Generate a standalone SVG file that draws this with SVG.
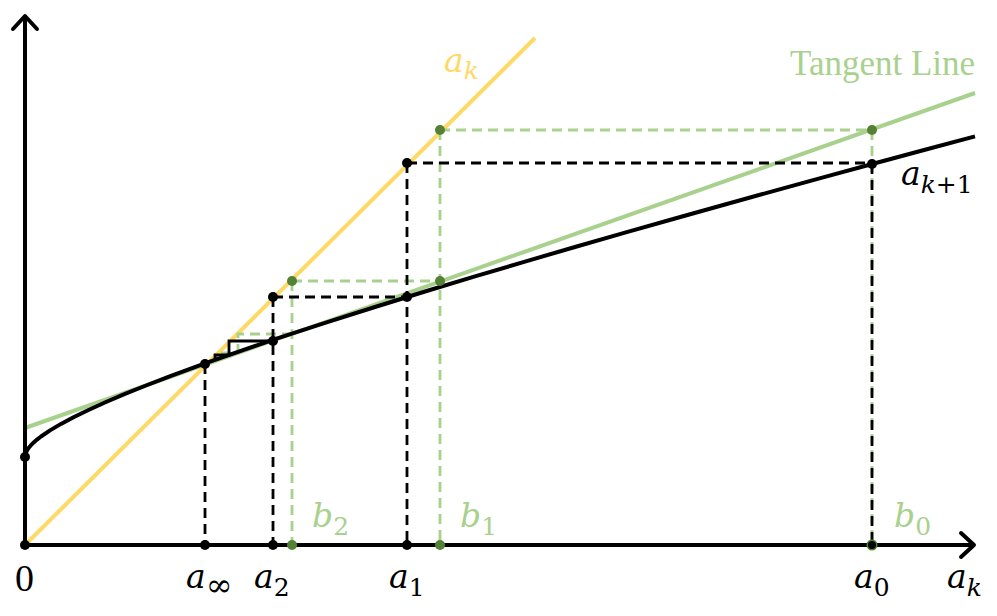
<svg xmlns="http://www.w3.org/2000/svg" width="997" height="616" viewBox="0 0 997 616">
  <style>
    .axis { stroke: #000; stroke-width: 4; fill: none; }
    .arrow { stroke: #000; stroke-width: 4; fill: none; stroke-linecap: round; stroke-linejoin: round; }
    .curve { stroke: #000; stroke-width: 4; fill: none; stroke-linejoin: round; }
    .yellow { stroke: #FFD966; stroke-width: 4; fill: none; }
    .tangent { stroke: #A9D18E; stroke-width: 4; fill: none; }
    .dk { stroke: #000; stroke-width: 2.8; stroke-dasharray: 10 6; fill: none; }
    .dg { stroke: #A9D18E; stroke-width: 2.8; stroke-dasharray: 10 6; fill: none; }
    .stair { stroke: #000; stroke-width: 2.8; fill: none; }
    .pk { fill: #000; }
    .pg { fill: #548235; }
    .m { font-family: "DejaVu Serif", "Liberation Serif", serif; font-style: italic; font-size: 33px; }
    .up { font-family: "Liberation Serif", "DejaVu Serif", serif; font-style: normal; font-size: 38px; }
    .sub { font-size: 25px; }
    .inf { font-size: 32px; }
    .n { font-style: normal; }
    .tl { font-family: "Liberation Serif", "DejaVu Serif", serif; font-size: 35px; fill: #A9D18E; }
  </style>

  <g id="curves">
    <line class="yellow" x1="25" y1="545" x2="535" y2="38"/>
    <line class="tangent" x1="25" y1="428" x2="975" y2="93"/>
  </g>

  <g id="connectors">
    <!-- green dashed -->
    <line class="dg" x1="440" y1="130" x2="872" y2="130"/>
    <line class="dg" x1="440" y1="130" x2="440" y2="545"/>
    <line class="dg" x1="872" y1="130" x2="872" y2="545"/>
    <line class="dg" x1="292" y1="281" x2="440" y2="281"/>
    <line class="dg" x1="292" y1="281" x2="292" y2="545"/>
    <polyline class="dg" points="292,334 238,334 238,353 218,353"/>
    <!-- black dashed -->
    <line class="dk" x1="407" y1="163" x2="872" y2="163"/>
    <line class="dk" x1="407" y1="163" x2="407" y2="545"/>
    <line class="dk" x1="872" y1="164" x2="872" y2="545"/>
    <line class="dk" x1="273" y1="297" x2="407" y2="297"/>
    <line class="dk" x1="273" y1="297" x2="273" y2="545"/>
    <line class="dk" x1="205" y1="364" x2="205" y2="545"/>
    <!-- black solid staircase -->
    <polyline class="stair" points="273,341 229,341 229,355 215,355 215,361"/>
  </g>

  <g id="function">
    <polyline class="curve" points="25,457 25.25,454.8 26,452.5 27,450.5 29,447.5 31,445.2 34,442.2 37,439.6 41,436.5 50,430.4 61,423.9 74,417 89,409.7 106,402 125,393.9 146,385.5 169,376.6 205,363.4 225,356.3 275,339.2 325,322.8 375,307 425,291.5 475,276.4 525,261.6 575,247 625,232.7 675,218.5 725,204.5 775,190.6 825,176.9 875,163.3 925,149.8 975,136.4"/>
  </g>

  <g id="axes">
    <line class="axis" x1="25" y1="547" x2="25" y2="17"/>
    <line class="axis" x1="23" y1="545" x2="973" y2="545"/>
    <polyline class="arrow" points="13,29 25,16 37,29"/>
    <polyline class="arrow" points="961,533 974,545 961,557"/>
  </g>

  <g id="points">
    <circle class="pk" cx="25" cy="545" r="5"/>
    <circle class="pk" cx="25" cy="457" r="5"/>
    <circle class="pk" cx="205" cy="364" r="5"/>
    <circle class="pk" cx="205" cy="545" r="5"/>
    <circle class="pk" cx="273" cy="341" r="5"/>
    <circle class="pk" cx="273" cy="297" r="5"/>
    <circle class="pk" cx="273" cy="545" r="5"/>
    <circle class="pk" cx="407" cy="297" r="5"/>
    <circle class="pk" cx="407" cy="163" r="5"/>
    <circle class="pk" cx="407" cy="545" r="5"/>
    <circle class="pk" cx="872" cy="164" r="5"/>
    <circle class="pg" cx="440" cy="130" r="5"/>
    <circle class="pg" cx="872" cy="130" r="5"/>
    <circle class="pg" cx="292" cy="281" r="5"/>
    <circle class="pg" cx="440" cy="281" r="5"/>
    <circle class="pg" cx="292" cy="545" r="5"/>
    <circle class="pg" cx="440" cy="545" r="5"/>
    <circle class="pg" cx="872" cy="545" r="5.5"/>
    <circle class="pk" cx="872" cy="545" r="4"/>
  </g>

  <g id="labels">
    <text class="m" x="444" y="72" fill="#FFD966">a<tspan class="sub" dy="7">k</tspan></text>
    <text class="tl" x="790" y="75">Tangent Line</text>
    <text class="m" x="901" y="185" fill="#000">a<tspan class="sub" dy="8">k<tspan class="n">+1</tspan></tspan></text>
    <text class="up" x="15" y="591" fill="#000">0</text>
    <text class="m" x="186" y="588" fill="#000">a<tspan class="inf n" dy="8">∞</tspan></text>
    <text class="m" x="254" y="588" fill="#000">a<tspan class="sub n" dy="8">2</tspan></text>
    <text class="m" x="389" y="588" fill="#000">a<tspan class="sub n" dy="8">1</tspan></text>
    <text class="m" x="854" y="588" fill="#000">a<tspan class="sub n" dy="8">0</tspan></text>
    <text class="m" x="947" y="588" fill="#000">a<tspan class="sub" dy="8">k</tspan></text>
    <text class="m" x="312" y="527" fill="#A9D18E">b<tspan class="sub n" dy="8">2</tspan></text>
    <text class="m" x="460" y="527" fill="#A9D18E">b<tspan class="sub n" dy="8">1</tspan></text>
    <text class="m" x="894" y="527" fill="#A9D18E">b<tspan class="sub n" dy="8">0</tspan></text>
  </g>
</svg>
